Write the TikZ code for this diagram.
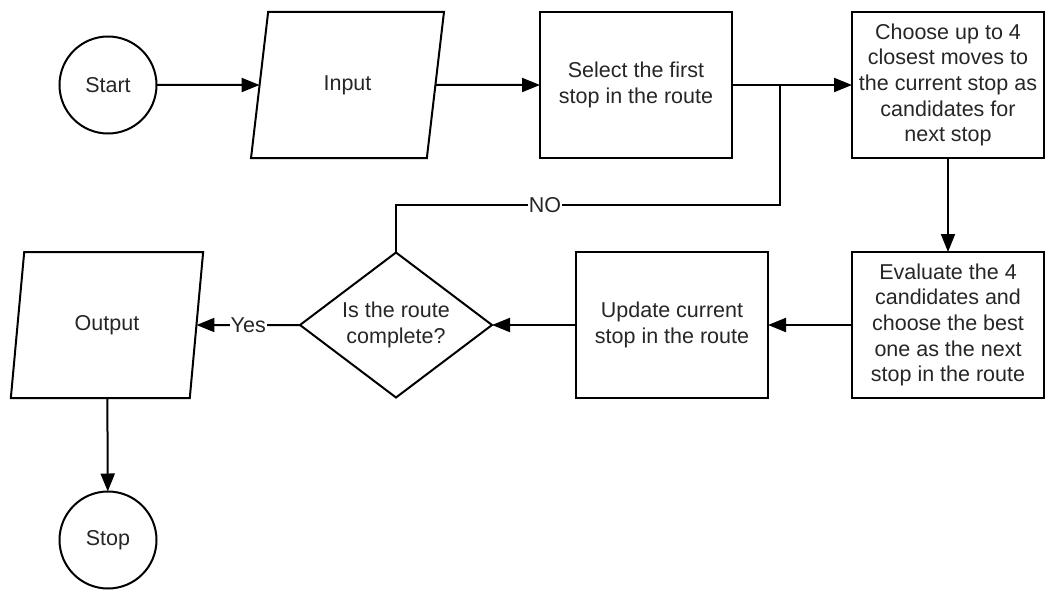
\documentclass[tikz,border=0pt]{standalone}
\usepackage{fontspec}
\setmainfont{Liberation Sans}
\usetikzlibrary{arrows.meta,shapes.geometric}

\tikzset{
  base/.style={draw=black, line width=2pt, outer sep=0pt, inner sep=0pt,
    text=black!85, align=center,
    font=\fontsize{21.5}{25.7}\selectfont},
  terminal/.style={base, circle, minimum size=97pt},
  io/.style={base, trapezium, trapezium left angle=75, trapezium right angle=105,
    trapezium stretches=true, minimum width=193pt, minimum height=146pt},
  process/.style={base, rectangle, minimum width=192pt, minimum height=146pt},
  decision/.style={base, diamond, aspect=1.32, minimum width=192pt, minimum height=145pt},
  flow/.style={line width=2pt, -{Triangle[length=18pt,width=14pt]}},
  plain/.style={line width=2pt},
  tag/.style={fill=white, inner sep=1pt, text=black!85,
    font=\fontsize{21.5}{25.7}\selectfont}
}

\begin{document}
\begin{tikzpicture}[x=1pt, y=-1pt]
  \useasboundingbox (0,0) rectangle (1051,599);

  % first row
  \node[terminal] (start) at (108,85) {Start};
  \node[io] (input) at (347.5,85) {Input};
  \node[process] (select) at (636,85) {Select the first\\stop in the route};
  \node[process] (choose) at (948,85) {Choose up to 4\\closest moves to\\the current stop as\\candidates for\\next stop};

  % second row
  \node[process] (evaluate) at (948,325) {Evaluate the 4\\candidates and\\choose the best\\one as the next\\stop in the route};
  \node[process] (update) at (672,325) {Update current\\stop in the route};
  \node[decision] (complete) at (396,325) {Is the route\\complete?};
  \node[io] (output) at (107,325) {Output};

  % end
  \node[terminal] (stop) at (108,540) {Stop};

  % loop-back route
  \coordinate (join) at (780,85);
  \coordinate (loopcorner) at (780,205);

  % connectors
  \draw[flow] (start) -- (input);
  \draw[flow] (input) -- (select);
  \draw[flow] (select) -- (choose);
  \draw[flow] (choose) -- (evaluate);
  \draw[flow] (evaluate) -- (update);
  \draw[flow] (update) -- (complete.east);
  \draw[flow] (complete.west) -- node[tag] {Yes} (output);
  \draw[flow] (output) -- (stop);
  \draw[plain] (complete.north) |- node[tag, pos=0.694] {NO} (loopcorner) -- (join);
\end{tikzpicture}
\end{document}
